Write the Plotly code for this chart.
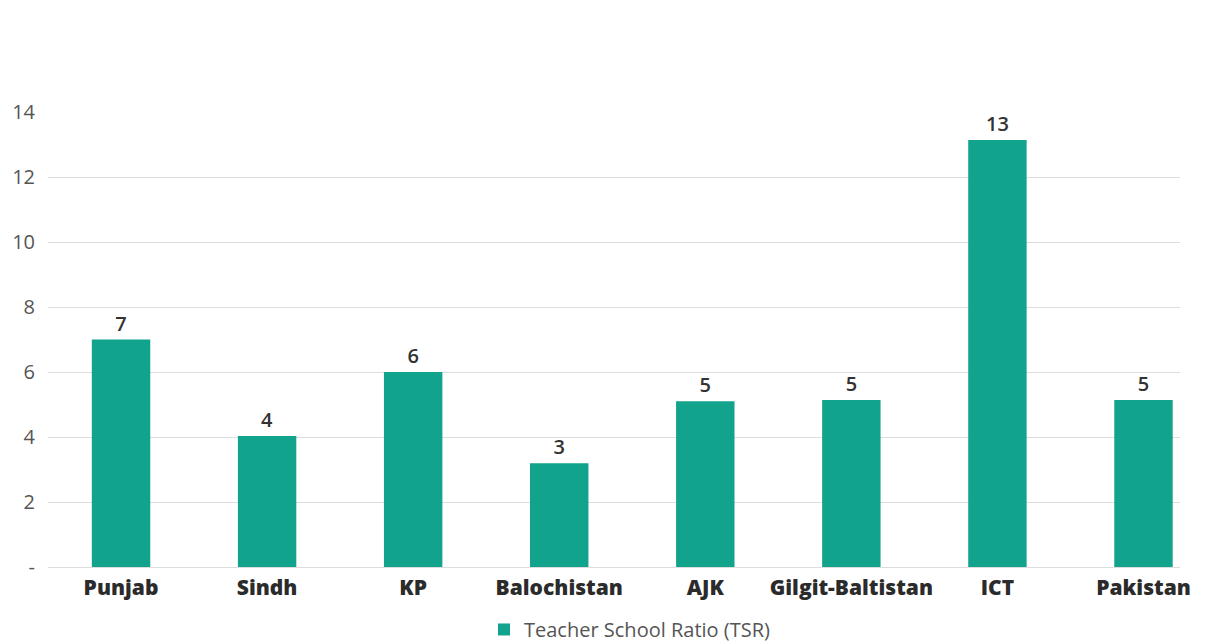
import plotly.graph_objects as go

categories = ["Punjab", "Sindh", "KP", "Balochistan", "AJK", "Gilgit-Baltistan", "ICT", "Pakistan"]
tsr_values = [7.0, 4.03, 6.0, 3.19, 5.1, 5.14, 13.14, 5.14]
series_name = "Teacher School Ratio (TSR)"
y_tickvals = [0, 2, 4, 6, 8, 10, 12, 14]
y_ticktext = ["-", "2", "4", "6", "8", "10", "12", "14"]

fig = go.Figure()
fig.add_trace(go.Bar(
    x=list(range(len(categories))),
    y=tsr_values,
    name=series_name,
    marker=dict(color="#12a38d", line=dict(width=0)),
    width=0.4,
    texttemplate="%{y:.0f}",
    textposition="outside",
    textfont=dict(family="Open Sans", size=20, color="#333333", weight=600),
    cliponaxis=False,
    showlegend=True,
))

fig.update_layout(
    width=1206, height=644,
    margin=dict(l=40, r=34, t=104, b=85),
    paper_bgcolor="white", plot_bgcolor="white",
    bargap=0.6,
    font=dict(family="Open Sans", color="#444444"),
    xaxis=dict(
        range=[-0.5, 7.25],
        tickmode="array",
        tickvals=list(range(len(categories))),
        ticktext=categories,
        tickangle=0,
        automargin=False,
        tickfont=dict(family="Open Sans", size=21, color="#2b2b2b", weight=800),
        showgrid=False, zeroline=False, showline=False,
        ticks="", ticklabelstandoff=6,
    ),
    yaxis=dict(
        range=[0, 14],
        tickmode="array",
        tickvals=y_tickvals,
        ticktext=y_ticktext,
        automargin=False,
        tickfont=dict(family="Open Sans", size=20, color="#555555"),
        showgrid=True, gridcolor="#dddddd", gridwidth=1,
        zeroline=True, zerolinecolor="#dddddd", zerolinewidth=1,
        showline=False, ticks="", ticklabelstandoff=12,
    ),
    legend=dict(
        orientation="h", xref="container", yref="container",
        x=0.3947, xanchor="left", y=0.035, yanchor="middle",
        font=dict(family="Open Sans", size=20, color="#555555"),
        itemwidth=30,
    ),
)

fig.write_html("out.html")
